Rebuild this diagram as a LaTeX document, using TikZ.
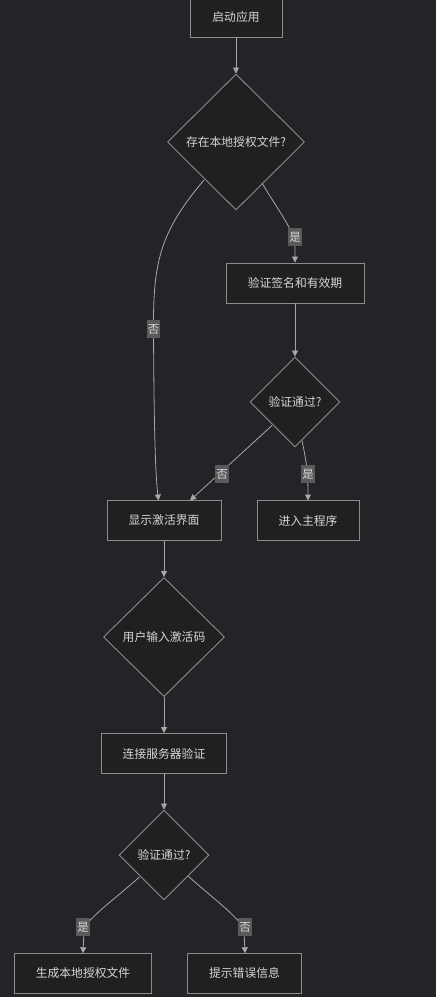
\documentclass[tikz,border=0pt]{standalone}
\usepackage{fontspec}
\setmainfont{Noto Sans CJK SC}
\usetikzlibrary{shapes.geometric,arrows.meta}
\definecolor{bgc}{HTML}{232428}
\definecolor{nodefill}{HTML}{1F2020}
\definecolor{nodeline}{HTML}{8C8C8C}
\definecolor{txt}{HTML}{D6D6D6}
\definecolor{edgec}{HTML}{A8A8A8}
\definecolor{lblbg}{HTML}{5A5A5A}
\begin{document}
\begin{tikzpicture}[x=1pt,y=-1pt,
  every node/.style={font=\fontsize{11.8}{13}\selectfont, text=txt},
  procbox/.style={draw=nodeline, fill=nodefill, line width=0.9pt, minimum height=40pt, inner sep=0pt},
  decide/.style={draw=nodeline, fill=nodefill, line width=0.9pt, diamond, aspect=1, inner sep=0pt},
  flow/.style={draw=edgec, line width=0.8pt, -{Triangle[length=6pt,width=6pt]}},
  lbl/.style={fill=lblbg, inner sep=1pt, minimum height=18pt, minimum width=12pt, font=\fontsize{11.5}{13}\selectfont, text=txt}
]
\fill[bgc] (0,0) rectangle (436,997);
\useasboundingbox (0,0) rectangle (436,997);

\node[procbox, minimum width=92pt] (start) at (236,17) {启动应用};
\node[decide, minimum width=137pt, minimum height=136pt] (d1) at (236,142) {存在本地授权文件?};
\node[procbox, minimum width=138pt] (verify) at (295,283) {验证签名和有效期};
\node[decide, minimum width=90pt, minimum height=90pt] (d2) at (295,402) {验证通过?};
\node[procbox, minimum width=114pt] (show) at (164,520.5) {显示激活界面};
\node[procbox, minimum width=102pt] (main) at (308,520.5) {进入主程序};
\node[decide, minimum width=121pt, minimum height=119pt] (d3) at (164,637) {用户输入激活码};
\node[procbox, minimum width=125pt] (conn) at (164,753.5) {连接服务器验证};
\node[decide, minimum width=90pt, minimum height=90pt] (d4) at (164,855) {验证通过?};
\node[procbox, minimum width=137pt] (gen) at (83,973) {生成本地授权文件};
\node[procbox, minimum width=114pt] (err) at (244.5,973) {提示错误信息};

\coordinate (d1L) at (204,180);
\coordinate (d1R) at (262,183);
\coordinate (d2L) at (272,425.5);
\coordinate (d2R) at (302,440.5);
\coordinate (d4L) at (139.5,877);
\coordinate (d4R) at (188,876);

\draw[flow] (start.south) -- (d1.north);
\draw[flow] (d1L) .. controls (160,232) and (153,262) .. (153.5,330) .. controls (154,420) and (155,470) .. (158.5,500.5);
\draw[flow] (d1R) .. controls (278,210) and (295,232) .. (295,245) -- (verify.north);
\draw[flow] (verify.south) -- (d2.north);
\draw[flow] (d2L) -- (190,500.5);
\draw[flow] (d2R) .. controls (306,460) and (308,470) .. (308,500.5);
\draw[flow] (show.south) -- (d3.north);
\draw[flow] (d3.south) -- (conn.north);
\draw[flow] (conn.south) -- (d4.north);
\draw[flow] (d4L) .. controls (110,903) and (88,918) .. (84,930) -- (83,953.3);
\draw[flow] (d4R) .. controls (215,900) and (240,918) .. (244,930) -- (245,953.3);

\node[lbl] (l1) at (295,237) {是};
\node[lbl] (l2) at (153.5,329) {否};
\node[lbl] (l3) at (222,474) {否};
\node[lbl] (l4) at (308,474) {是};
\node[lbl] (l5) at (83,927) {是};
\node[lbl] (l6) at (245,927) {否};
\end{tikzpicture}
\end{document}
